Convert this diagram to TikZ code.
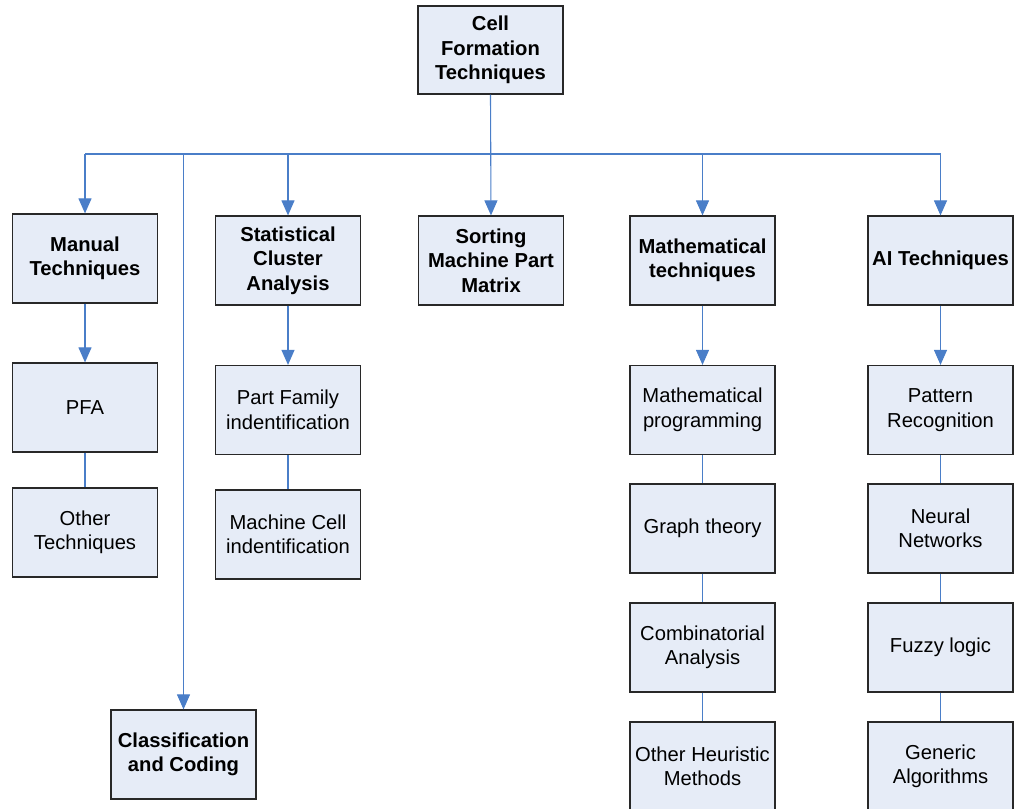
\documentclass[tikz,border=0pt]{standalone}
\usepackage{fontspec}
\setmainfont{Liberation Sans}
\usetikzlibrary{arrows.meta}
\definecolor{boxfill}{RGB}{230,236,247}
\definecolor{boxedge}{RGB}{40,40,40}
\definecolor{linkblue}{RGB}{74,126,200}
\begin{document}
\begin{tikzpicture}[x=1pt,y=-1pt,
  box/.style={draw=boxedge,line width=1.2pt,fill=boxfill,minimum width=145pt,
    minimum height=89pt,inner sep=0pt,align=center,
    font=\fontsize{20.2}{24.5}\selectfont},
  headbox/.style={box,font=\fontsize{20.2}{24.5}\selectfont\bfseries},
  wire/.style={draw=linkblue,line width=1.1pt},
  flow/.style={wire,-{Triangle[width=13pt,length=15pt]}}]
\useasboundingbox (0,0) rectangle (1018,809);

% root
\node[headbox,minimum height=88pt] (root) at (490.5,50) {Cell\\Formation\\Techniques};

% second level
\node[headbox] (manual) at (85,258.5) {Manual\\Techniques};
\node[headbox] (stat) at (288,260.5) {Statistical\\Cluster\\Analysis};
\node[headbox] (sort) at (491,260.5) {Sorting\\Machine Part\\Matrix};
\node[headbox] (math) at (702.5,260.5) {Mathematical\\techniques};
\node[headbox] (ai) at (940.5,260.5) {AI Techniques};
\node[headbox] (class) at (183.5,754.5) {Classification\\and Coding};

% manual techniques column
\node[box] (pfa) at (85,407.5) {PFA};
\node[box] (othtech) at (85,532.5) {Other\\Techniques};

% statistical column
\node[box] (partfam) at (288,410) {Part Family\\indentification};
\node[box] (machcell) at (288,534.5) {Machine Cell\\indentification};

% mathematical column
\node[box] (mprog) at (702.5,410) {Mathematical\\programming};
\node[box] (graph) at (702.5,528.5) {Graph theory};
\node[box] (comb) at (702.5,647.5) {Combinatorial\\Analysis};
\node[box] (heur) at (702.5,766.5) {Other Heuristic\\Methods};

% AI column
\node[box] (pattern) at (940.5,410) {Pattern\\Recognition};
\node[box] (neural) at (940.5,528.5) {Neural\\Networks};
\node[box] (fuzzy) at (940.5,647.5) {Fuzzy logic};
\node[box] (generic) at (940.5,766.5) {Generic\\Algorithms};

% distribution bus
\coordinate (bus) at (490.5,154);
\draw[wire] (manual.north |- bus) -- (ai.north |- bus);
\draw[flow] (root.south) -- (sort.north);
\draw[flow] (manual.north |- bus) -- (manual.north);
\draw[flow] (stat.north |- bus) -- (stat.north);
\draw[flow] (math.north |- bus) -- (math.north);
\draw[flow] (ai.north |- bus) -- (ai.north);
\draw[flow] (class.north |- bus) -- (class.north);

% column links
\draw[flow] (manual) -- (pfa);
\draw[wire] (pfa) -- (othtech);
\draw[flow] (stat) -- (partfam);
\draw[wire] (partfam) -- (machcell);
\draw[flow] (math) -- (mprog);
\draw[wire] (mprog) -- (graph);
\draw[wire] (graph) -- (comb);
\draw[wire] (comb) -- (heur);
\draw[flow] (ai) -- (pattern);
\draw[wire] (pattern) -- (neural);
\draw[wire] (neural) -- (fuzzy);
\draw[wire] (fuzzy) -- (generic);
\end{tikzpicture}
\end{document}
